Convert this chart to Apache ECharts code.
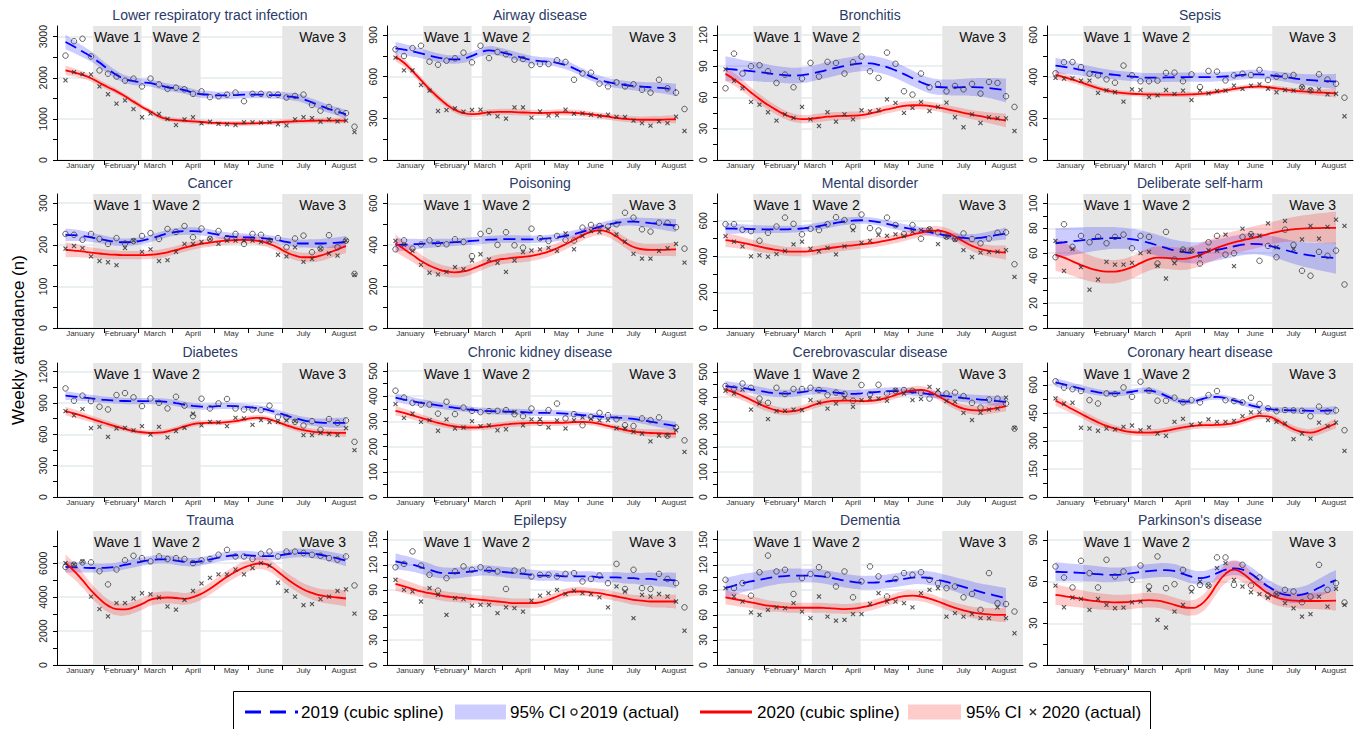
<!DOCTYPE html>
<html><head><meta charset="utf-8">
<script src="https://cdn.jsdelivr.net/npm/echarts@6/dist/echarts.min.js"></script>
<style>html,body{margin:0;padding:0;background:#fff}#c{width:1365px;height:729px}</style>
</head><body><div id="c"></div>
<script>
const panelTitles = ["Lower respiratory tract infection","Airway disease","Bronchitis","Sepsis","Cancer","Poisoning","Mental disorder","Deliberate self-harm","Diabetes","Chronic kidney disease","Cerebrovascular disease","Coronary heart disease","Trauma","Epilepsy","Dementia","Parkinson's disease"];
const weeks = [1,2,3,4,5,6,7,8,9,10,11,12,13,14,15,16,17,18,19,20,21,22,23,24,25,26,27,28,29,30,31,32,33,34,35];
const splineWeeks = weeks.slice(0, 34);
const months = ["January","February","March","April","May","June","July","August"];
const monthCenters = [2.75,7.5,11.5,16,20.5,24.5,29,33.75];
const monthBounds = [5.5,9.5,13.5,18.5,22.5,26.5,31.5];
const waves = [["Wave 1",4.25,9.95],["Wave 2",11.15,16.9],["Wave 3",26.5,36]];
const yMax = [3260,965,128.5,643,322,645,750,107.5,1283,532,535,718,7900,160.4,160.4,96.3];
const yStep = [1000,300,30,200,100,200,200,20,300,100,100,150,2000,30,30,30];
const yMinorStep = [500,150,15,100,50,100,100,10,150,50,50,75,1000,15,15,15];

const actual2019 = [
[2540,2890,2950,2520,2180,2100,2030,1930,1980,1790,1980,1840,1730,1760,1720,1610,1670,1530,1550,1590,1640,1430,1610,1610,1590,1590,1520,1560,1590,1340,1200,1290,1180,1140,810],
[797,749,806,823,708,686,715,732,773,703,823,734,778,761,722,727,684,691,691,718,706,578,624,629,550,530,559,530,545,506,485,578,516,485,367],
[68.8,102,82.9,89.9,90.9,85.1,73.9,81.9,69.8,78.1,93.1,80,94.1,93.1,82.9,93.8,99.2,85.1,78.7,103,92.2,65.9,62.7,82.9,69.8,72.6,65.9,71,67.8,73,63.7,74.9,73.9,61.1,50.9],
[416,469,470,446,414,406,387,371,453,406,378,378,381,418,419,378,411,350,427,424,382,406,414,408,432,384,400,402,408,349,334,411,386,366,299],
[226,224,212,226,214,202,216,203,209,221,228,214,238,231,245,218,239,214,233,216,226,202,226,224,210,216,194,215,222,182,191,223,194,210,130],
[379,422,382,402,422,405,403,427,414,346,453,467,400,461,398,387,478,432,419,443,424,421,483,496,491,488,499,555,531,475,464,507,506,485,382],
[581,581,550,542,488,533,568,618,583,524,555,548,581,620,604,566,635,559,546,618,576,526,576,500,552,535,511,498,529,498,474,501,533,535,357],
[56.8,83.2,65.1,73.9,68.8,73.1,68,73.1,74.9,64,73.9,73.1,51.7,77.1,54.9,62.9,62.1,51.7,68.8,73.9,58.9,60,73.1,75.2,53.9,65.9,56.8,78.9,66.7,45.9,41.9,61.1,57.9,62.1,34.9],
[1040,922,970,918,864,838,976,995,954,870,944,902,848,960,874,774,941,848,896,938,848,838,838,832,874,768,762,720,685,726,643,746,710,733,528],
[422,395,374,367,367,331,378,329,355,342,337,341,342,345,329,321,351,294,345,371,312,329,285,318,334,325,309,285,282,312,305,316,243,276,225],
[443,433,453,436,393,376,436,411,431,431,436,427,407,417,411,384,447,411,448,413,424,427,424,416,393,413,413,417,403,376,357,389,393,373,273],
[620,586,578,568,519,501,555,552,587,537,618,570,516,516,532,507,519,507,546,568,519,514,507,532,498,475,460,466,464,462,433,484,458,464,358],
[5780,5920,6050,6050,5530,4750,5630,6170,6440,6300,6110,6400,6250,6300,6250,6010,6170,6250,6500,6790,6400,6400,6250,6560,6690,6400,6690,6690,6600,6500,6440,6300,6210,6400,4690],
[117,121,136,119,108,89,104,112,118,114,117,114,112,91,113,113,106,108,108,106,109,110,100,103,107,98,121,91,114,92,91,109,103,98,69],
[102,92,98,83,111,131,112,114,85,104,109,117,108,94,112,81,100,118,106,82,103,110,108,111,102,98,92,94,81,85,66,110,74,73,64],
[70.8,62.9,55.7,74.9,66,55.7,75.6,63.6,67.2,61.2,71.5,56.4,78,55.2,58.1,68.4,55.2,57.6,57.1,77.3,77.3,57.6,72,57.1,62.9,49.9,50.9,54,52.8,45.1,49.2,72,54,58.8,44.9]
];
const actual2020 = [
[1940,2140,2090,2080,1790,1600,1370,1450,1240,1040,1130,1120,1000,850,990,1040,890,930,880,870,850,920,920,910,920,870,840,990,1040,1020,930,990,940,960,680],
[737,646,646,540,499,353,360,372,348,360,362,336,314,298,379,379,305,350,319,322,362,334,336,326,317,326,310,310,283,266,247,278,266,312,209],
[87,75.8,68.8,55.7,53.1,45.8,37.8,43.8,40.3,50.9,39,32.6,45.8,36.8,43.8,39,47.7,46.7,47.7,58.2,54.7,45.1,49.9,55.7,47,50.9,55,41,31.4,43.8,35.5,41,40,40,27.8],
[394,390,392,381,381,322,334,325,280,339,336,302,310,336,317,333,288,333,320,331,333,357,341,357,363,342,325,336,333,349,336,339,315,318,210],
[191,197,192,172,161,158,151,192,210,183,189,161,163,183,202,202,207,214,202,210,210,210,210,207,210,176,172,194,159,166,190,179,174,210,128],
[419,400,371,304,266,258,270,293,283,325,355,330,314,270,325,365,373,378,386,371,455,379,443,467,462,475,451,416,357,334,334,371,384,405,315],
[514,483,457,401,407,399,414,431,468,483,444,429,449,412,457,548,477,488,520,516,524,514,539,548,552,470,510,495,436,397,422,425,427,436,286],
[69.9,45.9,63.2,48.8,30.7,38.9,53.1,50.9,50.9,52.3,60,61.1,49.9,39.7,52,62.1,62.1,57.9,62.4,62.1,74.9,49.6,79.7,74.4,74,84,64.8,85.9,63.2,71,81.9,71.7,81.1,86.9,81.9],
[822,781,842,659,672,576,656,662,637,678,598,672,570,630,662,797,685,720,714,678,758,752,691,736,717,720,733,726,592,592,614,605,592,659,448],
[369,314,331,298,305,263,308,272,276,301,281,284,265,269,338,284,308,309,276,304,272,305,316,310,304,305,273,273,259,252,221,244,245,265,179],
[424,413,429,349,373,311,343,344,349,347,387,377,353,373,396,360,387,393,393,384,427,413,387,391,440,427,383,380,336,307,336,349,353,397,276],
[528,501,505,371,367,355,367,362,376,383,358,373,340,328,403,419,387,394,416,403,403,408,433,453,453,412,403,394,310,340,313,399,380,399,247],
[6010,5920,6110,4030,3300,2870,3650,3650,3920,4230,4170,3980,3450,3260,3840,4370,4810,5140,5340,5340,5630,5340,5720,6010,5860,4850,4370,4030,3530,3590,3880,4030,4370,4460,3030],
[102,90,88,76,92,84,60,80,79,71,72,72,62,69,68,64,77,83,86,90,85,89,86,85,81,69,94,88,56,84,82,85,82,76,41],
[92,82,76,63,60,66,69,68,74,64,56,82,58,53,54,61,61,73,86,76,76,74,69,86,90,92,58,62,58,61,56,56,69,56,38],
[57.1,41.5,48.5,47.5,39.6,47.5,43.2,40.8,41.3,45.1,45.6,54,32.4,26.9,38.4,43.2,52.8,60,57.1,69.6,73.2,61.2,56.4,52.3,50.9,48.5,50.9,44.4,40.8,34.8,36.5,49.2,42,54.7,43.2]
];
const spline2019 = [
[2870,2760,2640,2520,2370,2210,2070,1970,1920,1890,1870,1820,1770,1740,1700,1640,1600,1590,1570,1570,1580,1590,1590,1590,1580,1580,1550,1530,1480,1400,1320,1240,1180,1110],
[804,795,782,768,752,738,727,724,730,750,775,790,782,768,752,735,720,712,708,700,684,660,630,600,578,560,550,540,533,528,524,520,514,505],
[87.4,86.8,86,85.2,84.2,83.2,82.2,81.4,81,81.4,82.6,84.4,86.4,88.4,90.2,91.6,92.6,92.6,91.2,89,86,82.4,78.4,74.6,71.6,70,69.6,69.6,69.8,69.8,69.6,69,68,66.6],
[453,447,440,432,425,419,413,408,404,400,397,395,395,396,397,398,398,398,398,399,401,404,408,411,411,408,403,398,392,387,383,380,378,376],
[224,223,221,218,214,210,207,206,207,210,215,221,227,231,233,233,231,228,224,221,219,218,217,216,214,211,207,204,203,203,203,204,205,207],
[400,401,403,405,407,409,411,413,416,419,422,425,427,428,428,427,427,428,431,436,443,452,463,475,487,498,506,511,512,509,505,501,497,493],
[557,556,555,554,553,552,552,552,554,557,562,570,579,588,596,601,603,600,593,583,572,562,553,545,536,527,518,510,504,502,505,512,521,529],
[68,68.8,69.6,70.3,71,71.6,72,72.2,72,71.2,70,68.3,66.3,64.2,62.3,61,60.3,60.5,61.3,62.6,64,65.5,66.8,67.5,67.3,66.2,64.5,62.6,60.8,59.3,58.2,57.3,56.6,56],
[970,962,953,944,935,928,922,919,918,918,918,916,910,898,884,872,866,866,870,872,870,864,856,846,830,806,780,756,734,720,712,710,710,710],
[395,387,380,374,369,364,359,354,350,346,343,341,340,339,338,337,335,334,334,333,331,328,325,322,319,317,315,313,310,305,299,293,287,281],
[443,439,435,430,424,418,414,413,415,419,423,425,422,417,413,412,414,417,420,422,423,422,419,415,411,407,403,399,395,392,389,386,383,380],
[614,603,592,581,570,561,556,555,558,564,570,570,560,542,523,511,512,522,533,536,530,518,504,491,480,472,467,465,464,463,462,462,463,465],
[5780,5760,5740,5720,5720,5740,5800,5900,6000,6100,6180,6230,6220,6150,6080,6060,6120,6220,6330,6420,6470,6480,6450,6420,6420,6460,6530,6590,6600,6570,6500,6400,6280,6150],
[124,122,120,117,114,111,110,110,111,112,113,113,112,111,110,109,108,107,107,107,106,106,106,106,105,105,105,104,104,103,103,102,102,101],
[92,95,98,100,102,104,105.5,106.5,107,107,107,106.5,105,103,101,99.5,98.5,98.5,99,100,101.5,103,104.5,105,104,102,99.5,96.5,93.5,90.5,87.5,85,82.5,80],
[67,66.8,66.5,66.2,65.8,65.3,64.9,64.8,65.2,66,66.8,67.5,68,68.2,67.5,65.5,63.5,62.5,63.5,66,68.5,69.5,68.5,65.5,61,56.5,53,50.5,50,50.5,52.5,55.5,58.5,61]
];
const spline2020 = [
[2180,2130,2070,1990,1880,1770,1670,1550,1420,1290,1180,1060,995,970,955,940,925,910,900,892,888,888,892,900,910,920,930,940,948,955,958,960,960,960],
[744,700,640,575,510,452,400,360,338,330,335,343,346,347,345,342,340,338,340,342,343,340,335,328,320,312,303,296,292,290,290,290,292,293],
[82.6,77.5,71.5,64.8,58.5,52.8,47.8,43.5,40.5,39.2,39.5,40.5,41.5,42,42.3,42.5,43,44.5,46.5,48.5,50.3,51.8,52.5,52.5,51.8,50.5,48.8,47,45.2,43.5,42,40.5,39.2,37.8],
[408,398,386,372,358,345,334,326,321,318,316,315,314,314,314,314,315,317,321,327,334,341,347,351,352,349,344,338,333,329,326,324,322,320],
[188,186,184,181,179,177,176,175,175,175,176,178,182,187,193,198,202,205,208,210,211,212,211,208,202,193,182,174,170,170,174,181,189,197],
[408,380,352,323,300,283,272,268,272,284,300,317,328,334,339,342,347,356,368,384,403,424,446,463,470,462,440,412,390,379,376,376,377,378],
[492,485,476,466,455,445,437,430,427,427,430,437,445,452,458,463,468,474,481,490,500,511,523,534,543,545,535,512,484,460,442,432,426,422],
[58.7,56.5,53.5,50.5,48,46.2,45.3,45.3,46.5,48.8,52,55,56.5,56.3,55.7,55.5,56.5,58.5,61.5,64.3,66.7,68.6,70.3,72,73.6,75.3,77,78.3,79.2,79.8,80,80.2,80.3,80.4],
[822,800,776,750,724,698,674,652,633,620,614,616,628,650,676,698,708,710,712,716,726,742,756,758,744,716,686,660,640,626,618,615,614,614],
[342,334,324,314,304,294,286,280,277,276,277,280,284,288,291,293,294,294,294,294,295,297,298,296,290,282,274,266,260,256,254,253,252,252],
[429,418,404,388,371,357,346,341,343,351,363,374,381,384,385,384,383,384,388,396,407,418,426,428,420,403,384,366,353,347,346,350,356,363],
[516,494,470,446,422,400,381,366,355,348,345,345,348,355,364,373,380,384,385,386,389,396,409,424,435,432,413,387,364,349,345,356,375,394],
[6010,5550,5000,4400,3900,3500,3300,3280,3400,3600,3850,3950,3980,3950,3900,4000,4200,4500,4850,5200,5500,5750,5920,6000,5850,5500,5100,4750,4450,4250,4100,4030,3980,3920],
[97,94,91,88,86,84,82,81,80,79,78,77,76,75,74,74,74,75,78,82,86,88,88,87,86,84,82,80,78,77,76,76,76,76],
[81,79,77,75,73,71,70,69,68.5,68.5,68.5,68.5,68,67.5,67,67.5,69,71,74,77,80,82.5,83,82,79.5,76,72,68.5,65.5,63,61.5,60.5,60,60],
[50.4,49.5,48.5,47.5,46.5,45.8,45.3,45,45.1,45.5,46.2,46.6,46.2,45,43.2,41.5,41,43,49,58,65.5,68.5,66,61,56,51.5,48.5,47,46.3,46,46,46,46.1,46.2]
];
// 95% CI half-widths around the splines
const ci2019 = [
[175,155,138,125,114,106,100,96,93,91,90,90,90,90,90,90,90,90,90,90,90,90,90,90,90,90,90,91,92,94,96,98,101,105],
[45,41,38,35,33,31,30,30,30,30,30,30,30,30,30,30,30,30,30,30,30,30,30,30,30,30,30,31,32,34,36,38,41,45],
[12,11,10,9.5,9,8.5,8,7.8,7.5,7.5,7.5,7.5,7.5,7.5,7.5,7.5,7.5,7.5,7.5,7.5,7.5,7.5,7.5,7.5,7.5,7.5,7.5,7.7,8,8.5,9,9.5,10.5,11.5],
[38,34,31,28,26,24,23,22,22,22,22,22,22,22,22,22,22,22,22,22,22,22,22,22,22,22,22,23,24,26,28,31,34,38],
[15,14,12.5,11.5,10.5,10,9.5,9,9,9,9,9,9,9,9,9,9,9,9,9,9,9,9,9,9,9,9,9.3,9.7,10.2,11,12,13,14.5],
[32,29,26,23,21,20,19,18,18,18,18,18,18,18,18,18,18,18,18,18,18,18,18,18,18,18,18,19,20,22,24,26,29,32],
[30,28,26,24,22,21,20,20,20,20,20,20,20,20,20,20,20,20,20,20,20,20,20,20,20,20,20,21,22,24,26,28,30,33],
[12,11.5,11,10.5,10,9.5,9,8.7,8.5,8.5,8.5,8.5,8.5,8.5,8.5,8.5,8.5,8.5,8.5,8.5,8.5,8.5,8.5,8.5,8.5,8.5,8.5,8.8,9.2,9.7,10.3,11,11.7,12.5],
[42,39,36,34,32,31,30,30,30,30,30,30,30,30,30,30,30,30,30,30,30,30,30,30,30,30,30,32,34,37,40,44,48,52],
[18,17,16,15,14,13,12.5,12,12,12,12,12,12,12,12,12,12,12,12,12,12,12,12,12,12,12,12,12.5,13,14,15,16,17,18],
[20,19,18,17,16,15.5,15,15,15,15,15,15,15,15,15,15,15,15,15,15,15,15,15,15,15,15,15,15.5,16,17,18,19,20,21],
[24,22,20,19,18,17,16,15.5,15,15,15,15,15,15,15,15,15,15,15,15,15,15,15,15,15,15,15,15.5,16,17,18,19,21,23],
[320,300,285,270,260,255,250,250,250,250,250,250,250,250,250,250,250,250,250,250,250,250,250,250,250,250,250,255,260,270,280,295,310,330],
[9.5,9,8.5,8,7.5,7,6.7,6.5,6.3,6.2,6.2,6.2,6.2,6.2,6.2,6.2,6.2,6.2,6.2,6.2,6.2,6.2,6.2,6.2,6.2,6.2,6.2,6.5,6.8,7.2,7.6,8.1,8.7,9.3],
[12,11.5,11,10.5,10,9.5,9,8.7,8.5,8.3,8.2,8.2,8.2,8.2,8.2,8.2,8.2,8.2,8.2,8.2,8.2,8.2,8.2,8.2,8.2,8.2,8.2,8.6,9,9.5,10,10.7,11.4,12.2],
[6.8,6.5,6.2,6,5.8,5.6,5.4,5.2,5.1,5,5,5,5,5,5,5,5,5,5,5,5,5,5,5,5,5,5,5.2,5.4,5.7,6,6.4,6.8,7.2]
];
const ci2020 = [
[110,98,88,80,74,70,66,64,62,61,60,60,60,60,60,60,60,60,60,60,60,60,60,60,60,60,60,61,62,63,64,66,68,72],
[32,29,27,25,24,23,22,22,22,22,22,22,22,22,22,22,22,22,22,22,22,22,22,22,22,22,22,22,23,24,25,26,28,30],
[6.5,6,5.5,5,4.7,4.5,4.3,4.2,4.1,4,4,4,4,4,4,4,4,4,4,4,4,4,4,4,4,4,4,4.1,4.3,4.5,4.8,5.2,5.8,6.5],
[20,18,16,15,14,13,12.5,12,12,12,12,12,12,12,12,12,12,12,12,12,12,12,12,12,12,12,12,12.5,13,14,15,16,18,20],
[18,16,14.5,13,12,11,10.5,10,10,10,10,10,10,10,10,10,10,10,10,10,10,10,10,10,10,10,10,10.5,11,12,13,14,15.5,17],
[42,38,34,31,29,27,26,25,25,25,25,25,25,25,25,25,25,25,25,25,25,25,25,25,25,25,25,26,27,28,29,30,31,33],
[40,37,34,31,29,27,26,25,25,25,25,25,25,25,25,25,25,25,25,25,25,25,25,25,25,25,25,26,27,29,31,33,36,40],
[13,12.3,11.6,11,10.5,10,9.6,9.3,9,9,9,9,9,9,9,9,9,9,9,9,9,9,9,9,9,9,9,9.4,9.9,10.5,11.1,11.8,12.4,13],
[42,39,36,33,31,29,27,26,25,25,25,25,25,25,25,25,25,25,25,25,25,25,25,25,25,25,25,26,27,29,31,33,35,37],
[18,17,16,15,14,13,12.5,12,12,12,12,12,12,12,12,12,12,12,12,12,12,12,12,12,12,12,12,12.5,13,14,15,16,17,18],
[22,20,19,18,17,16,15.5,15,15,15,15,15,15,15,15,15,15,15,15,15,15,15,15,15,15,15,15,15.5,16,17,18,19,20,21],
[28,26,24,22,21,20,19,18,18,18,18,18,18,18,18,18,18,18,18,18,18,18,18,18,18,18,18,18.5,19,20,21,22,24,26],
[520,480,450,420,400,380,370,360,350,350,350,350,350,350,350,350,350,350,350,350,350,350,350,350,350,350,350,360,370,385,400,420,450,480],
[8.5,8,7.5,7,6.5,6.2,6,5.8,5.6,5.5,5.5,5.5,5.5,5.5,5.5,5.5,5.5,5.5,5.5,5.5,5.5,5.5,5.5,5.5,5.5,5.5,5.5,5.7,6,6.4,6.8,7.3,7.8,8.4],
[8.5,8,7.6,7.2,6.9,6.6,6.4,6.2,6,6,6,6,6,6,6,6,6,6,6,6,6,6,6,6,6,6,6,6.2,6.5,6.8,7.2,7.6,8.1,8.6],
[7.5,7.1,6.7,6.4,6.1,5.9,5.7,5.5,5.4,5.3,5.3,5.3,5.3,5.3,5.3,5.3,5.5,5.8,6.2,6.5,6.8,6.8,6.6,6.3,6,5.8,5.6,5.5,5.5,5.6,5.8,6.1,6.5,7]
];

const FONT = "'Liberation Sans', Arial, Helvetica, sans-serif";
const LEFTS = [57, 387, 717, 1047], TOPS = [26, 194, 363, 531], GW = 306, GH = 134;
const BLUE = '#0000ff', RED = '#ff0000';
const BAND19 = 'rgba(0,0,255,0.2)', BAND20 = 'rgba(255,0,0,0.2)';
const CROSS = 'path://M0,1.6L1.6,0L5,3.4L8.4,0L10,1.6L6.6,5L10,8.4L8.4,10L5,6.6L1.6,10L0,8.4L3.4,5Z';

function ticksUpTo(step, max) { const a = []; for (let k = 0; k * step <= max + 1e-9; k++) a.push(+(k * step).toFixed(6)); return a; }

function bandSeries(p, mid, hw, color) {
  const rows = splineWeeks.map((x, i) => { const h = hw[i] != null ? hw[i] : hw[hw.length - 1]; return [x, mid[i] - h, mid[i] + h]; });
  return {
    type: 'custom', xAxisIndex: p, yAxisIndex: p * 2, silent: true, z: 2,
    data: rows, encode: { x: 0, y: [1, 2] },
    renderItem: function (params, api) {
      if (params.dataIndex !== 0) return null;
      const up = rows.map(r => api.coord([r[0], r[2]]));
      const lo = rows.map(r => api.coord([r[0], r[1]])).reverse();
      const pts = [up[0]].concat(up, [up[up.length - 1]], [lo[0]], lo, [lo[lo.length - 1]]);
      return { type: 'polygon', shape: { points: pts, smooth: 0.5 }, style: { fill: color, stroke: null } };
    }
  };
}

const grids = [], xAxes = [], yAxes = [], series = [], graphics = [];
panelTitles.forEach((title, p) => {
  const col = p % 4, row = Math.floor(p / 4);
  grids.push({ left: LEFTS[col], top: TOPS[row], width: GW, height: GH, containLabel: false, outerBoundsMode: 'none' });
  xAxes.push({
    gridIndex: p, type: 'value', min: 0, max: 36,
    axisLine: { show: true, onZero: false, lineStyle: { color: '#000', width: 1 } },
    axisTick: { show: true, customValues: monthBounds, length: 5, lineStyle: { color: '#000', width: 1 } },
    axisLabel: { show: true, customValues: monthCenters, formatter: v => months[monthCenters.indexOf(v)] || '', fontSize: 8, color: '#333', margin: 1.5, fontFamily: FONT },
    splitLine: { show: false }
  });
  const majors = ticksUpTo(yStep[p], yMax[p]);
  const allTicks = ticksUpTo(yMinorStep[p], yMax[p]);
  yAxes.push({
    gridIndex: p, type: 'value', min: 0, max: yMax[p], position: 'left',
    axisLine: { show: true, lineStyle: { color: '#000', width: 1 } },
    axisTick: { show: true, customValues: allTicks, length: 4, lineStyle: { color: '#000', width: 1 } },
    axisLabel: { show: true, customValues: majors, formatter: v => String(v), rotate: 90, fontSize: 10.5, color: '#222', margin: 9, fontFamily: FONT },
    splitLine: { show: false }
  });
  yAxes.push({
    gridIndex: p, type: 'value', min: 0, max: yMax[p], position: 'left', interval: yStep[p],
    axisLine: { show: false }, axisTick: { show: false, customValues: majors }, axisLabel: { show: false },
    splitLine: { show: true, lineStyle: { color: '#e3ebee', width: 1.5 } }
  });
  series.push(bandSeries(p, spline2019[p], ci2019[p], BAND19));
  series.push(bandSeries(p, spline2020[p], ci2020[p], BAND20));
  series.push({
    type: 'line', xAxisIndex: p, yAxisIndex: p * 2, silent: true, z: 3, smooth: true, symbol: 'none',
    data: splineWeeks.map((x, i) => [x, spline2019[p][i]]),
    lineStyle: { color: BLUE, width: 1.8, type: [12, 6] },
    markArea: {
      silent: true, z: 1,
      itemStyle: { color: '#e6e6e6' },
      label: { show: true, position: 'insideTop', distance: 4, fontSize: 14, color: '#111', fontFamily: FONT },
      data: waves.map(w => [{ name: w[0], xAxis: w[1] }, { xAxis: w[2] }])
    }
  });
  series.push({
    type: 'line', xAxisIndex: p, yAxisIndex: p * 2, silent: true, z: 3, smooth: true, symbol: 'none',
    data: splineWeeks.map((x, i) => [x, spline2020[p][i]]),
    lineStyle: { color: RED, width: 1.8 }
  });
  series.push({
    type: 'scatter', xAxisIndex: p, yAxisIndex: p * 2, silent: true, z: 4,
    data: weeks.map((x, i) => [x, actual2019[p][i]]),
    symbol: 'circle', symbolSize: 5.5,
    itemStyle: { color: 'rgba(255,255,255,0)', borderColor: '#3c3c3c', borderWidth: 1 }
  });
  series.push({
    type: 'scatter', xAxisIndex: p, yAxisIndex: p * 2, silent: true, z: 4,
    data: weeks.map((x, i) => [x, actual2020[p][i]]),
    symbol: CROSS, symbolSize: 4.8,
    itemStyle: { color: '#2a2a2a' }
  });
  graphics.push({ type: 'text', x: LEFTS[col] + GW / 2, y: TOPS[row] - 11, silent: true,
    style: { text: title, align: 'center', verticalAlign: 'middle', font: '14px ' + FONT, fill: '#2b3a67' } });
});

// y-axis title
graphics.push({ type: 'text', x: 18, y: 340, rotation: Math.PI / 2, silent: true,
  style: { text: 'Weekly attendance (n)', align: 'center', verticalAlign: 'middle', font: '17px ' + FONT, fill: '#000' } });

// legend
const LY = 712, LF = '17px ' + FONT;
graphics.push(
  { type: 'rect', silent: true, shape: { x: 233.5, y: 691.5, width: 917, height: 60 }, style: { fill: '#fff', stroke: '#000', lineWidth: 1 } },
  { type: 'line', silent: true, shape: { x1: 245, y1: LY, x2: 298, y2: LY }, style: { stroke: BLUE, lineWidth: 3, lineDash: [16, 9] } },
  { type: 'text', silent: true, x: 301, y: LY, style: { text: '2019 (cubic spline)', font: LF, fill: '#000', verticalAlign: 'middle' } },
  { type: 'rect', silent: true, shape: { x: 455, y: 704.5, width: 51, height: 15 }, style: { fill: BAND19 } },
  { type: 'text', silent: true, x: 510, y: LY, style: { text: '95% CI', font: LF, fill: '#000', verticalAlign: 'middle' } },
  { type: 'circle', silent: true, shape: { cx: 574, cy: LY, r: 3 }, style: { fill: 'none', stroke: '#333', lineWidth: 1.5 } },
  { type: 'text', silent: true, x: 580, y: LY, style: { text: '2019 (actual)', font: LF, fill: '#000', verticalAlign: 'middle' } },
  { type: 'line', silent: true, shape: { x1: 700, y1: LY, x2: 752, y2: LY }, style: { stroke: RED, lineWidth: 3 } },
  { type: 'text', silent: true, x: 757, y: LY, style: { text: '2020 (cubic spline)', font: LF, fill: '#000', verticalAlign: 'middle' } },
  { type: 'rect', silent: true, shape: { x: 908, y: 704.5, width: 53, height: 15 }, style: { fill: BAND20 } },
  { type: 'text', silent: true, x: 966, y: LY, style: { text: '95% CI', font: LF, fill: '#000', verticalAlign: 'middle' } },
  { type: 'line', silent: true, shape: { x1: 1030, y1: LY - 3, x2: 1036, y2: LY + 3 }, style: { stroke: '#333', lineWidth: 1.5 } },
  { type: 'line', silent: true, shape: { x1: 1030, y1: LY + 3, x2: 1036, y2: LY - 3 }, style: { stroke: '#333', lineWidth: 1.5 } },
  { type: 'text', silent: true, x: 1042, y: LY, style: { text: '2020 (actual)', font: LF, fill: '#000', verticalAlign: 'middle' } }
);

const chart = echarts.init(document.getElementById('c'), null, { renderer: 'svg', width: 1365, height: 729 });
chart.setOption({
  animation: false,
  backgroundColor: '#fff',
  textStyle: { fontFamily: FONT },
  grid: grids, xAxis: xAxes, yAxis: yAxes, series: series,
  graphic: { elements: graphics }
});
</script></body></html>
